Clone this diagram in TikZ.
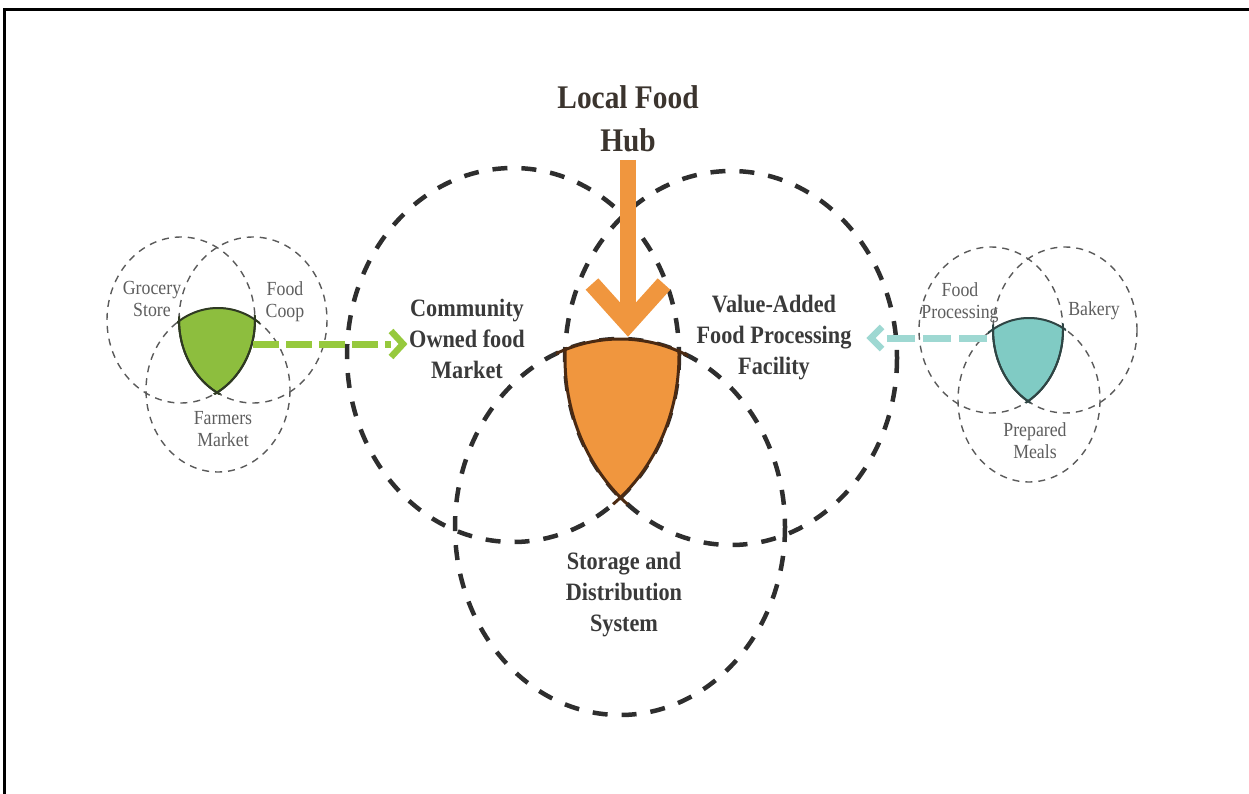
\documentclass[tikz,border=0pt]{standalone}
\usepackage{fontspec}
\setmainfont{Liberation Serif}
\newfontfamily\tnr[FakeStretch=0.89]{Liberation Serif}
\usetikzlibrary{calc}
\definecolor{ringgray}{HTML}{2E2E2E}
\definecolor{smallgray}{HTML}{5A5A5A}
\definecolor{hubfill}{HTML}{F0963E}
\definecolor{hubline}{HTML}{4B2A12}
\definecolor{greenfill}{HTML}{8DBE3E}
\definecolor{greenline}{HTML}{2F3A22}
\definecolor{greenarrow}{HTML}{96C93D}
\definecolor{tealfill}{HTML}{80CBC4}
\definecolor{tealline}{HTML}{2F4544}
\definecolor{tealarrow}{HTML}{9ED8D2}
\definecolor{labelgray}{HTML}{3A3A3A}
\definecolor{smalltext}{HTML}{5E5E5E}
\definecolor{hubtext}{HTML}{3B342E}
\begin{document}
\begin{tikzpicture}[x=1pt,y=-1pt,
  bigring/.style={draw=ringgray, line width=4.5pt, dash pattern=on 15pt off 14pt},
  smallring/.style={draw=smallgray, line width=1.4pt, dash pattern=on 7pt off 6pt},
  biglabel/.style={font=\tnr\bfseries\fontsize{25}{31}\selectfont, text=labelgray, align=center, inner sep=0pt},
  hublabel/.style={font=\tnr\bfseries\fontsize{33}{43}\selectfont, text=hubtext, align=center, inner sep=0pt},
  smalllabel/.style={font=\tnr\fontsize{20}{22}\selectfont, text=smalltext, align=center, inner sep=0pt},
  hubedge/.style={draw=hubline, line width=3pt},
  greenedge/.style={draw=greenline, line width=2pt},
  tealedge/.style={draw=tealline, line width=2pt},
  greenflow/.style={draw=greenarrow, line width=7pt, dash pattern=on 26pt off 7pt},
  tealflow/.style={draw=tealarrow, line width=7pt, dash pattern=on 28pt off 8pt},
  greenhead/.style={draw=greenarrow, line width=6.5pt, line join=miter},
  tealhead/.style={draw=tealarrow, line width=6.5pt, line join=miter},
  hubshaft/.style={draw=hubfill, line width=16pt},
  hubhead/.style={draw=hubfill, line width=17pt, line join=miter},
  frame/.style={draw=black, line width=3pt}
]
\useasboundingbox (0,0) rectangle (1249,794);

% frame
\draw[frame] (4.5,794) -- (4.5,9.3) -- (1249,9.3);

% centres
\coordinate (L) at (513,355);
\coordinate (R) at (731,358);
\coordinate (B) at (620,527);
\coordinate (A1) at (181,320);
\coordinate (A2) at (253,320);
\coordinate (A3) at (218,390);
\coordinate (D1) at (991,330);
\coordinate (D2) at (1065,330);
\coordinate (D3) at (1029,400);

% big dashed rings
\draw[bigring] (L) ellipse [x radius=166, y radius=187];
\draw[bigring] (R) ellipse [x radius=166, y radius=187];
\draw[bigring] (B) ellipse [x radius=165, y radius=188];

% small dashed rings
\draw[smallring] (A1) ellipse [x radius=74, y radius=83];
\draw[smallring] (A2) ellipse [x radius=74, y radius=83];
\draw[smallring] (A3) ellipse [x radius=72, y radius=82];
\draw[smallring] (D1) ellipse [x radius=72, y radius=83];
\draw[smallring] (D2) ellipse [x radius=72, y radius=83];
\draw[smallring] (D3) ellipse [x radius=71, y radius=82];

% orange hub shape
\begin{scope}
  \clip (L) ellipse [x radius=166, y radius=187];
  \clip (R) ellipse [x radius=166, y radius=187];
  \fill[hubfill] (B) ellipse [x radius=165, y radius=188];
\end{scope}
\begin{scope}
  \clip (L) ellipse [x radius=175, y radius=196];
  \clip (R) ellipse [x radius=175, y radius=196];
  \draw[hubedge] (B) ellipse [x radius=165, y radius=188];
\end{scope}
\begin{scope}
  \clip (L) ellipse [x radius=176, y radius=197];
  \clip (B) ellipse [x radius=167, y radius=190];
  \draw[hubedge] (R) ellipse [x radius=166, y radius=187];
\end{scope}
\begin{scope}
  \clip (R) ellipse [x radius=176, y radius=197];
  \clip (B) ellipse [x radius=167, y radius=190];
  \draw[hubedge] (L) ellipse [x radius=166, y radius=187];
\end{scope}

% green shape
\begin{scope}
  \clip (A1) ellipse [x radius=74, y radius=83];
  \clip (A2) ellipse [x radius=74, y radius=83];
  \fill[greenfill] (A3) ellipse [x radius=72, y radius=82];
\end{scope}
\begin{scope}
  \clip (A1) ellipse [x radius=79, y radius=88];
  \clip (A2) ellipse [x radius=76, y radius=85];
  \draw[greenedge] (A3) ellipse [x radius=72, y radius=82];
\end{scope}
\begin{scope}
  \clip (A1) ellipse [x radius=77, y radius=86];
  \clip (A3) ellipse [x radius=72, y radius=82];
  \draw[greenedge] (A2) ellipse [x radius=74, y radius=83];
\end{scope}
\begin{scope}
  \clip (A2) ellipse [x radius=77, y radius=86];
  \clip (A3) ellipse [x radius=72, y radius=82];
  \draw[greenedge] (A1) ellipse [x radius=74, y radius=83];
\end{scope}
\begin{scope}
  \clip (A1) ellipse [x radius=77, y radius=86];
  \clip (A2) ellipse [x radius=77, y radius=86];
  \clip (A3) ellipse [x radius=76, y radius=86];
  \draw[greenedge] (A1) ellipse [x radius=74, y radius=83];
  \draw[greenedge] (A2) ellipse [x radius=74, y radius=83];
\end{scope}

% teal shape
\begin{scope}
  \clip (D1) ellipse [x radius=72, y radius=83];
  \clip (D2) ellipse [x radius=72, y radius=83];
  \fill[tealfill] (D3) ellipse [x radius=71, y radius=82];
\end{scope}
\begin{scope}
  \clip (D1) ellipse [x radius=75, y radius=86];
  \clip (D2) ellipse [x radius=77, y radius=88];
  \draw[tealedge] (D3) ellipse [x radius=71, y radius=82];
\end{scope}
\begin{scope}
  \clip (D1) ellipse [x radius=72, y radius=83];
  \clip (D3) ellipse [x radius=71, y radius=82];
  \draw[tealedge] (D2) ellipse [x radius=72, y radius=83];
\end{scope}
\begin{scope}
  \clip (D2) ellipse [x radius=72, y radius=83];
  \clip (D3) ellipse [x radius=71, y radius=82];
  \draw[tealedge] (D1) ellipse [x radius=72, y radius=83];
\end{scope}
\begin{scope}
  \clip (D1) ellipse [x radius=75, y radius=86];
  \clip (D2) ellipse [x radius=75, y radius=86];
  \clip (D3) ellipse [x radius=75, y radius=86];
  \draw[tealedge] (D1) ellipse [x radius=72, y radius=83];
  \draw[tealedge] (D2) ellipse [x radius=72, y radius=83];
\end{scope}

% labels
\node[hublabel] (hub) at (628,119) {Local Food\\Hub};
\node[biglabel] (community) at (467,339) {Community\\Owned food\\Market};
\node[biglabel] (valueadded) at (774,338) {Value-Added\\Food Processing\\Facility};
\node[biglabel] (storage) at (624,595) {Storage and\\Distribution\\System};

\node[smalllabel] (grocery) at (152,299) {Grocery\\Store};
\node[smalllabel] (coop) at (285,301.5) {Food\\Coop};
\node[smalllabel] (farmers) at (223,429) {Farmers\\Market};
\node[smalllabel] (processing) at (960,303) {Food\\Processing};
\node[smalllabel] (bakery) at (1094,311) {Bakery};
\node[smalllabel] (meals) at (1035,441) {Prepared\\Meals};

% orange arrow
\coordinate (hubtop) at (628,160);
\coordinate (hubtip) at (628,324);
\draw[hubshaft] (hubtop) -- ($(hubtip)+(0,-4)$);
\draw[hubhead] ($(hubtip)+(-36,-40)$) -- (hubtip) -- ($(hubtip)+(36,-40)$);

% green arrow
\coordinate (gstart) at (253,344);
\coordinate (gend) at (391,344);
\draw[greenflow] (gstart) -- (gend);
\draw[greenhead] ($(gend)+(0,-13)$) -- ($(gend)+(12,0)$) -- ($(gend)+(0,13)$);

% teal arrow
\coordinate (tstart) at (987,338);
\coordinate (tend) at (882,338);
\draw[tealflow] (tstart) -- (tend);
\draw[tealhead] ($(tend)+(0,-11)$) -- ($(tend)+(-11,0)$) -- ($(tend)+(0,11)$);
\end{tikzpicture}
\end{document}
